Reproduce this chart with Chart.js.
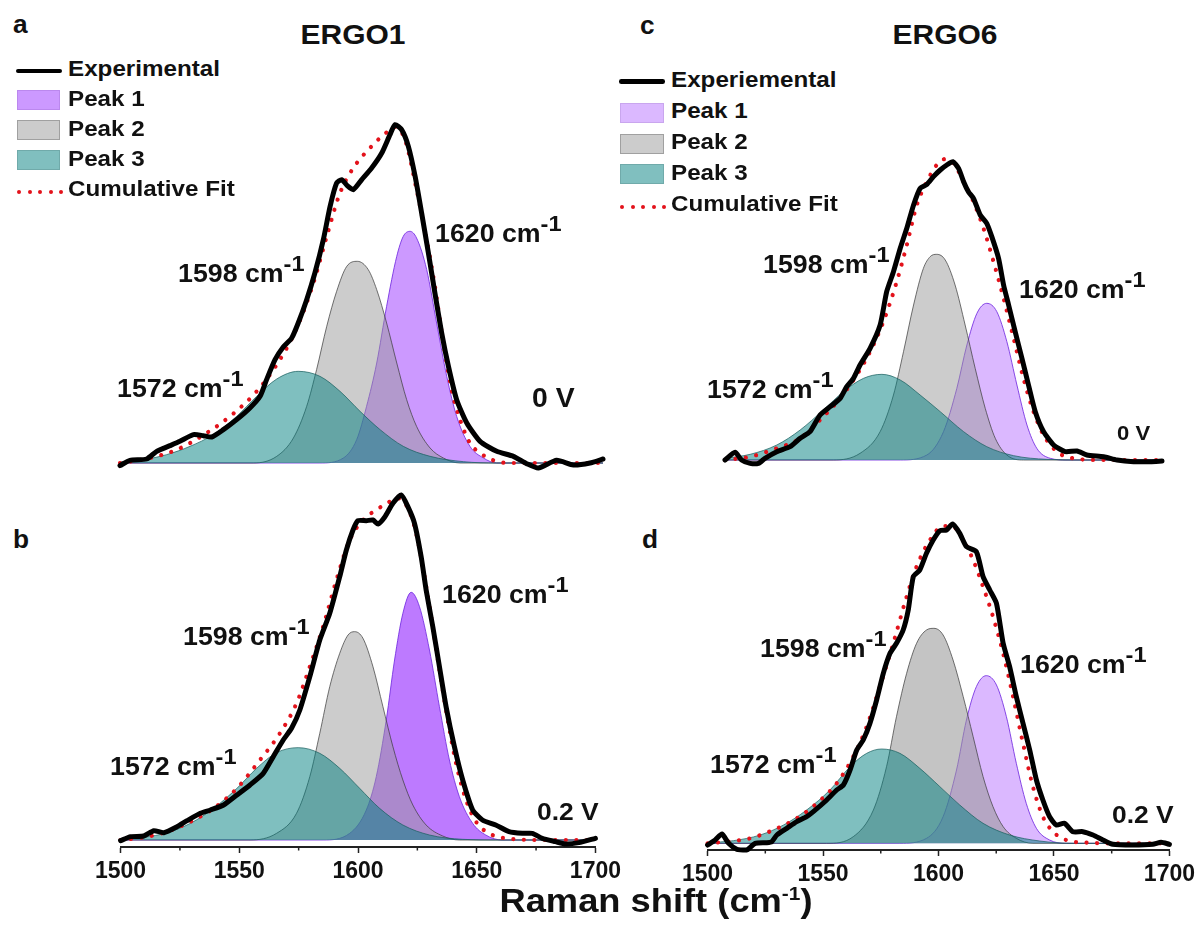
<!DOCTYPE html>
<html>
<head>
<meta charset="utf-8">
<script src="https://cdn.jsdelivr.net/npm/chart.js@4.4.1/dist/chart.umd.min.js"></script>
<style>
html,body{margin:0;padding:0;background:#fff;}
body{width:1199px;height:925px;position:relative;overflow:hidden;font-family:'Liberation Sans',Arial,sans-serif;}
canvas{position:absolute;}
.t{position:absolute;white-space:nowrap;font-weight:bold;color:#111;}
.mk{position:absolute;}
</style>
</head>
<body>
<canvas id="cA"></canvas>
<canvas id="cB"></canvas>
<canvas id="cC"></canvas>
<canvas id="cD"></canvas>
<script>
// ---------------- Panel a : ERGO1, 0 V ----------------
const aExpX = [1500,1504.1,1511.0,1515.2,1520.7,1524.8,1530.4,1534.5,1538.0,1542.8,1548.3,1553.8,1558.0,1560.7,1564.2,1567.6,1571.1,1573.8,1577.3,1580.7,1584.2,1587.0,1589.7,1591.8,1594.1,1596.6,1600.1,1604.2,1608.4,1611.8,1613.9,1616.6,1619.4,1622.2,1624.9,1627.7,1630.4,1633.2,1636.0,1639.4,1643.6,1649.1,1656.0,1662.9,1668.4,1673.2,1680.8,1687.7,1694.6,1700];
const aExpY = [-0.8,0.8,1.2,3.5,5.2,6.5,8.5,8.2,7.8,10,13,16.5,20,25,31,34.8,37.5,42,49,57,67,77,84,85,83.2,82,85,88.5,93,98.5,101.5,100,95,86,75,63,51,39,29,19,12,6.5,3.5,2,-0.2,-1.5,0.8,-0.6,0,1.2];
const aFitX = [1500,1512.4,1523.5,1535.9,1546.9,1556.6,1564.9,1573.2,1580.1,1585.6,1591.1,1596.6,1603.5,1610.4,1613.9,1618.0,1622.8,1627.0,1630.4,1633.9,1637.3,1640.8,1644.9,1649.1,1654.6,1661.5,1675.3,1700];
const aFitY = [0,1.5,4,9,14.8,21.5,29.5,40.5,54,68,81,88.5,94.5,99.2,100.8,97,82,67,53,36,22,13,6,3,0.8,0,0,0];
const aP1X = [1500,1582.8,1592.5,1598.0,1602.1,1606.3,1610.4,1614.6,1617.3,1620.1,1622.8,1627.0,1631.1,1635.3,1639.4,1644.9,1650.5,1656.0,1700];
const aP1Y = [0,0,1.5,7,17,30,47,62,68,69.5,67.5,58,42,26,14,5,1.5,0,0];
const aP2X = [1500,1555.2,1564.9,1571.8,1577.3,1581.4,1585.6,1589.7,1593.9,1598.3,1602.8,1606.3,1610.4,1614.6,1618.7,1622.8,1628.4,1633.9,1640.8,1700];
const aP2Y = [0,0,2,7.5,17,28,41,51.5,59,60.5,58,52,42,30,19,11,4.5,1.5,0,0];
const aP3X = [1500,1509.7,1519.3,1529.0,1538.6,1548.3,1556.6,1564.9,1573.8,1582.8,1591.1,1599.4,1607.7,1617.3,1628.4,1642.2,1656.0,1700];
const aP3Y = [0.3,1,2.5,5,8.5,14,20,25.2,27.5,26,21.5,15.5,10,5,2,0.4,0,0];

// ---------------- Panel b : ERGO1, 0.2 V ----------------
const bExpX = [1500,1504.2,1509.8,1514.0,1518.2,1523.8,1528.0,1533.6,1537.8,1543.4,1549.0,1554.5,1560.1,1564.3,1568.5,1572.0,1575.5,1579.7,1583.9,1588.1,1592.3,1595.1,1597.9,1600.0,1603.5,1606.3,1608.4,1611.2,1614.7,1618.2,1621.0,1623.8,1626.6,1628.7,1631.5,1634.3,1637.1,1640.6,1644.1,1648.3,1652.4,1658.0,1663.6,1669.2,1673.4,1677.6,1683.2,1687.4,1693.0,1700];
const bExpY = [-0.2,1,1.2,2.8,2.2,4,5.8,8,9,10.5,13.5,16.5,20,25,30,33.5,39,49,60,68,79,87,93,95.8,95.8,96,94.8,96.8,101,103.5,100,95,85,75,64,52,40,28,18,9,6,4.5,2.5,2,2,0.5,-0.5,-1.2,-0.8,0.5];
const bFitX = [1500,1509.8,1519.6,1529.4,1539.2,1549.0,1558.7,1567.1,1574.1,1579.7,1585.3,1590.9,1596.5,1602.1,1607.7,1613.3,1616.8,1620.3,1623.8,1627.3,1630.8,1634.3,1637.8,1641.3,1645.5,1649.7,1655.2,1663.6,1677.6,1700];
const bFitY = [0,0.8,2.5,5.5,9.5,15.5,24,32,41,52,64,78,90,96,99,101.5,102.5,100.5,94,82,67,51,36,23,12,5.5,2,0.4,0,0];
const bP1X = [1500,1585.3,1596.5,1603.5,1607.7,1611.9,1615.4,1618.9,1622.4,1625.9,1630.1,1634.3,1638.5,1642.7,1648.3,1653.8,1660.8,1700];
const bP1Y = [0,0,2,9,19,36,54,68,74.3,70,57,40,24,13,5,1.5,0,0];
const bP2X = [1500,1554.5,1565.7,1574.1,1579.7,1583.9,1588.1,1592.3,1595.8,1598.6,1602.1,1606.3,1610.5,1614.7,1618.9,1623.1,1628.7,1635.7,1642.7,1700];
const bP2Y = [0,0,2,8,19,32,46,56,61.5,62.5,60.5,52,40,28,18,10.5,4.5,1.2,0,0];
const bP3X = [1500,1509.8,1519.6,1529.4,1539.2,1549.0,1557.3,1565.7,1574.8,1583.9,1592.3,1600.7,1609.1,1618.9,1630.1,1644.1,1658.0,1700];
const bP3Y = [0.2,0.8,2.2,5,9.5,15.5,21.5,26.2,27.7,26,21.5,15.5,9.5,4.5,1.5,0.2,0,0];

// ---------------- Panel c : ERGO6, 0 V ----------------
const cExpX = [1500,1504.6,1507.6,1511.5,1515.3,1518.3,1523.7,1529.8,1534.4,1538.9,1543.5,1548.1,1552.7,1555.7,1558.8,1561.8,1566.4,1571.0,1574.0,1577.1,1580.2,1583.2,1586.3,1589.3,1592.4,1595.4,1598.5,1601.5,1604.3,1606.9,1609.2,1611.4,1613.7,1616.8,1619.8,1622.1,1625.2,1627.5,1629.8,1632.8,1635.9,1638.9,1642.0,1645.8,1650.4,1655.7,1661.1,1665.6,1673.3,1679.4,1687.0,1694.7,1700];
const cExpY = [0,2.3,0,-1,-1,0.5,2.5,4,6.5,8.5,13.5,16,18.5,22,24.5,28.5,33.5,40.5,50.5,56.5,63.5,69.5,76.5,81.5,82.7,85,87,88.5,89.5,87.5,83.5,80.5,78.5,73.5,71,67,60.5,52.5,46.5,38.5,30.5,22.5,14.5,8.5,4.5,2.5,2.7,1.5,1,0,-0.5,-0.5,-0.3];
const cFitX = [1500,1511.5,1523.7,1534.4,1543.5,1552.7,1560.3,1566.4,1572.5,1578.6,1583.2,1587.8,1592.4,1596.9,1600.8,1604.6,1609.2,1613.7,1618.3,1622.9,1627.5,1632.1,1636.6,1641.2,1645.8,1651.9,1659.5,1671.8,1700];
const cFitY = [0,1,3.5,6.5,12,18.5,25.5,32.5,41.5,53.5,64.5,76.5,83.5,88.5,90.3,89,83.5,77.5,69.5,59.5,48.5,36.5,24.5,14.5,7.5,2.5,0.5,0,0];
const cP1X = [1500,1580.2,1592.4,1600.0,1606.1,1610.7,1615.3,1619.8,1624.4,1629.0,1633.6,1638.2,1642.7,1648.9,1656.5,1700];
const cP1Y = [0,0,1.5,8.5,21.5,34.5,44,47,44.5,35.5,22.5,10.5,3.5,0.5,0,0];
const cP2X = [1500,1549.6,1561.8,1571.0,1577.1,1581.7,1586.3,1590.8,1593.9,1596.9,1600.8,1605.3,1609.9,1614.5,1619.1,1623.7,1629.0,1636.6,1700];
const cP2Y = [0,0,2,8.5,19.5,32.5,46.5,57.5,61,61.7,60,52.5,40.5,27.5,15.5,6.5,1.5,0,0];
const cP3X = [1500,1511.5,1523.7,1534.4,1545.0,1554.2,1563.4,1571.8,1580.2,1589.3,1598.5,1609.2,1619.8,1632.1,1647.3,1664.1,1700];
const cP3Y = [0.5,1.7,4.5,9,15,20.5,24.5,25.7,24,19.5,14.5,8.5,4,1.3,0.2,0,0];

// ---------------- Panel d : ERGO6, 0.2 V ----------------
const dExpX = [1500,1503.3,1506.2,1509.1,1512.7,1517.0,1520.6,1525.6,1527.8,1530.0,1534.3,1538.6,1542.9,1545.8,1551.6,1555.9,1558.8,1561.7,1564.6,1567.4,1570.3,1573.2,1576.1,1579.0,1581.8,1584.7,1586.9,1589.1,1591.9,1594.8,1597.7,1600.6,1603.5,1606.1,1609.2,1612.1,1616.4,1619.3,1622.2,1625.1,1628.0,1630.8,1633.7,1636.6,1639.5,1642.4,1645.2,1648.1,1651.0,1654.6,1658.2,1662.5,1666.9,1671.2,1675.5,1684.1,1692.8,1696.4,1700];
const dExpY = [-0.5,1,2.8,0,-1.8,-2,0,0.2,0.5,2.5,4.5,6.5,8,9.5,13,16,17.5,22,28,31,36,43,51,57,60,64,70,80,82,87,91,93.8,94,95.8,93,89,87.5,80,76,72,60,53,44,36,28,19,13,8,5.5,6,3.5,3.5,2.5,1,-0.3,-0.5,-0.3,0.3,-0.3];
const dFitX = [1500,1508.4,1518.4,1528.5,1538.6,1547.3,1555.9,1563.1,1568.9,1574.6,1580.4,1586.2,1590.5,1596.3,1602.0,1606.3,1610.7,1615.0,1619.3,1623.6,1628.0,1632.3,1636.6,1640.9,1645.2,1649.6,1655.3,1664.0,1676.9,1700];
const dFitY = [0,0.5,1.5,4,7.5,12,18,26,35,47,60,74,83,91,95.2,95,91,85,77,68,57,44,30,17,8,3.5,1,0.2,0,0];
const dP1X = [1500,1583.3,1594.8,1602.0,1607.8,1612.1,1616.4,1620.7,1625.1,1629.4,1633.7,1638.0,1642.4,1648.1,1655.3,1700];
const dP1Y = [0,0,1.5,8,22,37,47,50.3,47.5,38,24,12,4.5,1,0,0];
const dP2X = [1500,1551.6,1563.1,1571.8,1577.5,1581.8,1586.2,1590.5,1594.8,1598.0,1602.0,1606.3,1610.7,1615.0,1619.3,1623.6,1628.0,1633.7,1640.9,1700];
const dP2Y = [0,0,2,10,23,38,51,60,64,64.5,62.5,55,44,32,20,11,5,1.5,0,0];
const dP3X = [1500,1511.2,1522.8,1532.9,1542.9,1553.0,1561.7,1568.9,1575.4,1583.3,1591.9,1600.6,1609.2,1619.3,1630.8,1643.8,1658.2,1700];
const dP3Y = [0.2,0.8,2.5,5.5,10,16,23,27,28.3,27,22.5,17,11.5,6,2.5,0.7,0,0];

// tick labels of the Raman-shift axis
const xTickLabels = [1500,1550,1600,1650,1700];

const FONT = "'Liberation Sans', Arial, sans-serif";
const pts = (xs, ys) => xs.map((x, i) => ({x: x, y: ys[i]}));

const minorTicks = {
  id: 'minorTicks',
  afterDraw(chart) {
    const s = chart.scales.x;
    if (!s.options.display) return;
    const ctx = chart.ctx;
    ctx.save();
    ctx.strokeStyle = '#222';
    ctx.lineWidth = 1.5;
    for (let v = 1525; v < 1700; v += 50) {
      const px = s.getPixelForValue(v);
      ctx.beginPath();
      ctx.moveTo(px, chart.chartArea.bottom);
      ctx.lineTo(px, chart.chartArea.bottom + 3.5);
      ctx.stroke();
    }
    ctx.restore();
  }
};

function makeChart(id, p) {
  const cv = document.getElementById(id);
  cv.width = p.w; cv.height = p.h;
  cv.style.left = p.left + 'px'; cv.style.top = p.top + 'px';
  cv.style.width = p.w + 'px'; cv.style.height = p.h + 'px';
  const ds = [
    {label:'Experimental', data: pts(p.ex, p.ey), borderColor:'#000', borderWidth:5,
     tension:0.2, fill:false, order:0, clip:8, borderJoinStyle:'round', borderCapStyle:'round'},
    {label:'Cumulative Fit', data: pts(p.fx, p.fy), borderColor:'#e3121b', borderWidth:4.2,
     borderDash:[0.01, 10.5], borderCapStyle:'round', cubicInterpolationMode:'monotone',
     fill:false, order:1, clip:8},
    {label:'Peak 3', data: pts(p.p3x, p.p3y), borderColor:'rgba(25,95,95,0.9)', borderWidth:0.8,
     backgroundColor:'rgba(0,128,128,0.5)', fill:'origin', cubicInterpolationMode:'monotone', order:2},
    {label:'Peak 2', data: pts(p.p2x, p.p2y), borderColor:'rgba(60,60,60,0.9)', borderWidth:0.8,
     backgroundColor:p.c2, fill:'origin', cubicInterpolationMode:'monotone', order:3},
    {label:'Peak 1', data: pts(p.p1x, p.p1y), borderColor:'rgba(115,45,225,0.95)', borderWidth:0.9,
     backgroundColor:p.c1, fill:'origin', cubicInterpolationMode:'monotone', order:4}
  ];
  new Chart(cv, {
    type: 'line',
    data: {datasets: ds},
    plugins: [minorTicks],
    options: {
      responsive: false, animation: false, events: [],
      layout: {padding: p.pad},
      elements: {point: {radius: 0}},
      plugins: {legend: {display: false}, tooltip: {enabled: false}},
      scales: {
        x: {
          type: 'linear', min: 1500, max: 1700, display: p.axis, position: 'bottom',
          afterFit: (s) => { if (p.axis) s.height = 50; },
          border: {display: true, color: '#222', width: 2},
          grid: {drawOnChartArea: false, drawTicks: true, tickLength: 6, tickWidth: 1.5,
                 tickColor: (c) => (c.tick && xTickLabels.includes(c.tick.value)) ? '#222' : 'rgba(0,0,0,0)'},
          ticks: {stepSize: 25, autoSkip: false, maxRotation: 0, padding: 5, color: '#111',
                  font: {family: FONT, weight: 'bold', size: 23},
                  callback: (v) => xTickLabels.includes(v) ? String(v) : ''}
        },
        y: {display: false, min: p.ymin, max: p.ymax}
      }
    }
  });
}

makeChart('cA', {left:110, top:100, w:503, h:385, pad:{left:10,right:10,top:10,bottom:10}, axis:false,
  ymin:-3.6, ymax:105.9, ex:aExpX, ey:aExpY, fx:aFitX, fy:aFitY, p1x:aP1X, p1y:aP1Y, p2x:aP2X, p2y:aP2Y, p3x:aP3X, p3y:aP3Y,
  c1:'rgba(153,51,255,0.5)', c2:'rgba(153,153,153,0.5)'});
makeChart('cC', {left:715, top:130, w:457, h:352, pad:{left:10,right:10,top:10,bottom:10}, axis:false,
  ymin:-3.6, ymax:96.0, ex:cExpX, ey:cExpY, fx:cFitX, fy:cFitY, p1x:cP1X, p1y:cP1Y, p2x:cP2X, p2y:cP2Y, p3x:cP3X, p3y:cP3Y,
  c1:'rgba(153,51,255,0.35)', c2:'rgba(153,153,153,0.5)'});
makeChart('cB', {left:90, top:470, w:536, h:427, pad:{left:30,right:30,top:10,bottom:0}, axis:true,
  ymin:-2.1, ymax:108, ex:bExpX, ey:bExpY, fx:bFitX, fy:bFitY, p1x:bP1X, p1y:bP1Y, p2x:bP2X, p2y:bP2Y, p3x:bP3X, p3y:bP3Y,
  c1:'rgba(153,51,255,0.65)', c2:'rgba(153,153,153,0.5)'});
makeChart('cD', {left:677, top:500, w:523, h:400, pad:{left:30,right:30,top:10,bottom:0}, axis:true,
  ymin:-2.0, ymax:100, ex:dExpX, ey:dExpY, fx:dFitX, fy:dFitY, p1x:dP1X, p1y:dP1Y, p2x:dP2X, p2y:dP2Y, p3x:dP3X, p3y:dP3Y,
  c1:'rgba(153,51,255,0.35)', c2:'rgba(153,153,153,0.58)'});

// ---------------- text ----------------
function addText(html, x, base, size, center, sx) {
  const d = document.createElement('div');
  d.className = 't';
  d.style.fontSize = size + 'px';
  d.style.lineHeight = size + 'px';
  d.style.top = (base - 0.8465 * size) + 'px';
  d.style.left = x + 'px';
  d.innerHTML = html;
  if (center) {
    d.style.transformOrigin = '50% 0';
    d.style.transform = 'translateX(-50%) scaleX(' + sx + ')';
  } else {
    d.style.transformOrigin = '0 0';
    d.style.transform = 'scaleX(' + sx + ')';
  }
  document.body.appendChild(d);
}
function mk(css) {
  const d = document.createElement('div');
  d.className = 'mk';
  d.style.cssText += css;
  document.body.appendChild(d);
}
const sup = (s, fs, up) => '<span style="position:relative;top:-' + up + 'px;font-size:' + fs + 'px">' + s + '</span>';
const wn = (n) => n + ' cm' + sup('-1', 22, 11);

// panel letters and titles
addText('a', 13, 33, 25, false, 1.05);
addText('b', 13, 548, 25, false, 1.05);
addText('c', 640, 34, 25, false, 1.05);
addText('d', 642, 548, 25, false, 1.05);
addText('ERGO1', 353, 45, 28, true, 1.07);
addText('ERGO6', 944.5, 45, 28, true, 1.07);

// legend, panel a
mk('left:16px;top:68.5px;width:46px;height:4.6px;background:#000;border-radius:2.3px;');
mk('left:17px;top:90px;width:43px;height:20px;background:#cc99ff;box-sizing:border-box;border:1px solid #bb88ee;');
mk('left:17px;top:120px;width:43px;height:20px;background:#cccccc;box-sizing:border-box;border:1px solid #a0a0a0;');
mk('left:17px;top:150px;width:43px;height:20px;background:#80bfbf;box-sizing:border-box;border:1px solid #70aaaa;');
for (let i = 0; i < 5; i++) mk('left:' + (17 + i * 10.5) + 'px;top:190px;width:4.2px;height:4.2px;border-radius:2.1px;background:#e3121b;');
addText('Experimental', 68, 77, 22, false, 1.1);
addText('Peak 1', 68, 107, 22, false, 1.1);
addText('Peak 2', 68, 137, 22, false, 1.1);
addText('Peak 3', 68, 167, 22, false, 1.1);
addText('Cumulative Fit', 68, 197, 22, false, 1.1);

// legend, panel c
mk('left:619px;top:79px;width:46px;height:4.6px;background:#000;border-radius:2.3px;');
mk('left:620px;top:103px;width:44px;height:20px;background:#dbb8ff;box-sizing:border-box;border:1px solid #c9a6ee;');
mk('left:620px;top:134px;width:44px;height:20px;background:#cccccc;box-sizing:border-box;border:1px solid #a0a0a0;');
mk('left:620px;top:164px;width:44px;height:20px;background:#80bfbf;box-sizing:border-box;border:1px solid #70aaaa;');
for (let i = 0; i < 5; i++) mk('left:' + (620 + i * 10.5) + 'px;top:205px;width:4.2px;height:4.2px;border-radius:2.1px;background:#e3121b;');
addText('Experiemental', 671, 88, 22, false, 1.1);
addText('Peak 1', 671, 119, 22, false, 1.1);
addText('Peak 2', 671, 150, 22, false, 1.1);
addText('Peak 3', 671, 180.5, 22, false, 1.1);
addText('Cumulative Fit', 671, 212, 22, false, 1.1);

// peak annotations
addText(wn(1620), 435, 242, 25, false, 1.07);
addText(wn(1598), 178, 282, 25, false, 1.07);
addText(wn(1572), 117, 397, 25, false, 1.07);
addText('0 V', 532, 408, 27, false, 1.05);

addText(wn(1598), 763, 273, 25, false, 1.07);
addText(wn(1620), 1019, 298, 25, false, 1.07);
addText(wn(1572), 707, 398, 25, false, 1.07);
addText('0 V', 1117, 440, 21, false, 1.05);

addText(wn(1620), 442, 603, 25, false, 1.07);
addText(wn(1598), 183, 645, 25, false, 1.07);
addText(wn(1572), 110, 775, 25, false, 1.07);
addText('0.2 V', 537, 820, 24, false, 1.1);

addText(wn(1598), 760, 657, 25, false, 1.07);
addText(wn(1620), 1020, 673, 25, false, 1.07);
addText(wn(1572), 710, 773, 25, false, 1.07);
addText('0.2 V', 1112, 823, 24, false, 1.1);

// axis title
addText('Raman shift (cm' + sup('-1', 19, 12) + ')', 656, 912, 33, true, 1.1);
</script>
</body>
</html>
